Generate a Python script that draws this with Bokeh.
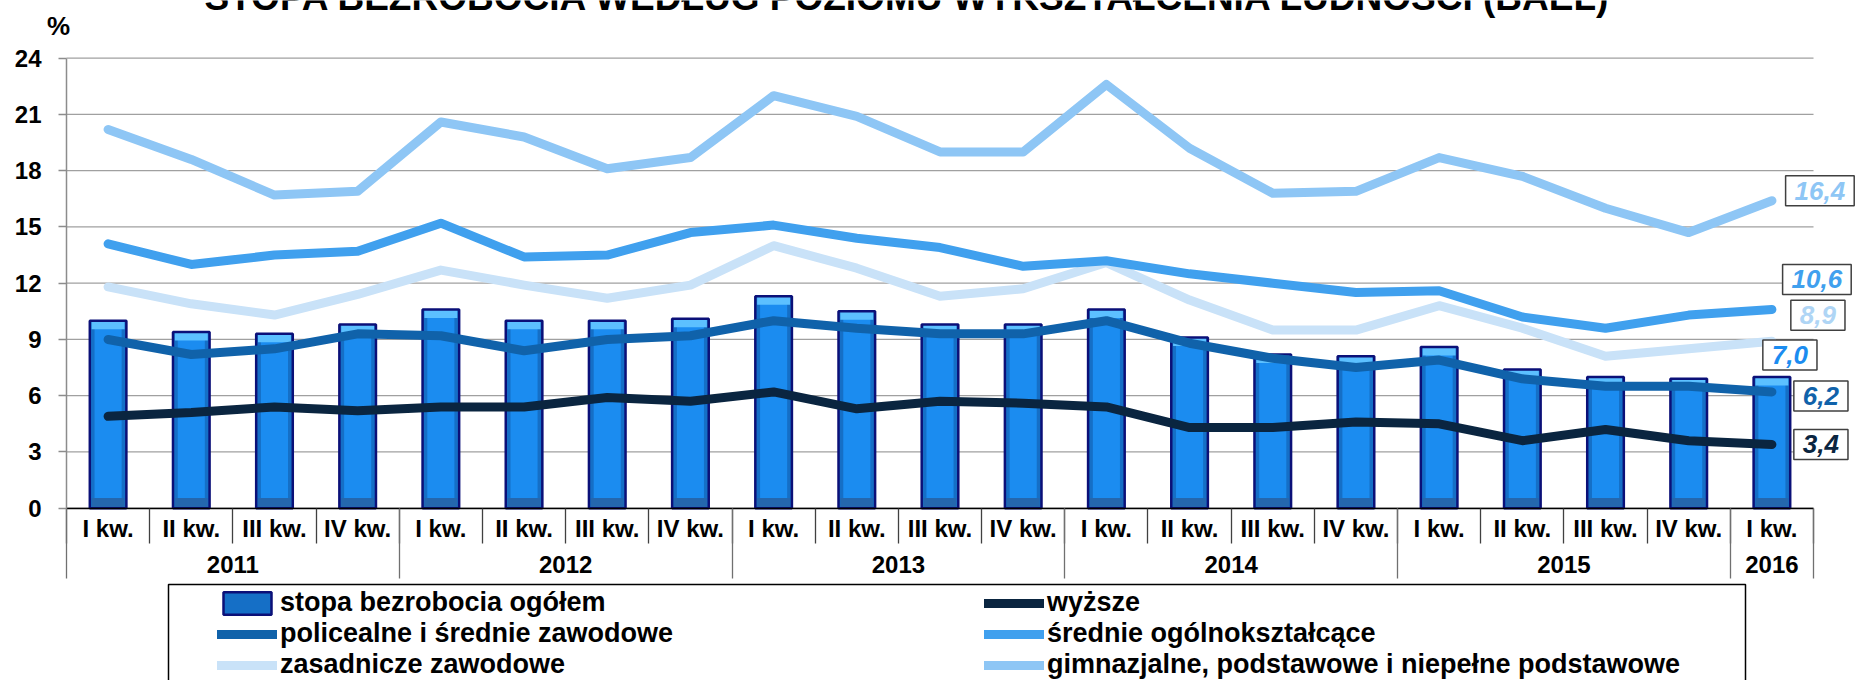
import numpy as np
from bokeh.plotting import figure
from bokeh.models import (Range1d, FixedTicker, LinearAxis, Label, Legend, LegendItem,
                          BoxAnnotation, ColumnDataSource)
from bokeh.embed import file_html
from bokeh.resources import INLINE

# ---------------- data ----------------
title_text = "STOPA BEZROBOCIA WEDŁUG POZIOMU WYKSZTAŁCENIA LUDNOŚCI (BAEL)"
years = ["2011", "2012", "2013", "2014", "2015", "2016"]
year_counts = [4, 4, 4, 4, 4, 1]
quarters = ["I kw.", "II kw.", "III kw.", "IV kw."] * 5 + ["I kw."]
y_ticks = [0, 3, 6, 9, 12, 15, 18, 21, 24]

ogolem = [10.0, 9.4, 9.3, 9.8, 10.6, 10.0, 10.0, 10.1, 11.3, 10.5, 9.8, 9.8,
          10.6, 9.1, 8.2, 8.1, 8.6, 7.4, 7.0, 6.9, 7.0]
wyzsze = [4.9, 5.1, 5.4, 5.2, 5.4, 5.4, 5.9, 5.7, 6.2, 5.3, 5.7, 5.6,
          5.4, 4.3, 4.3, 4.6, 4.5, 3.6, 4.2, 3.6, 3.4]
policealne = [9.0, 8.2, 8.5, 9.3, 9.2, 8.4, 9.0, 9.2, 10.0, 9.6, 9.3, 9.3,
              10.0, 8.8, 8.0, 7.5, 7.9, 6.9, 6.5, 6.5, 6.2]
srednie = [14.1, 13.0, 13.5, 13.7, 15.2, 13.4, 13.5, 14.7, 15.1, 14.4, 13.9, 12.9,
           13.2, 12.5, 12.0, 11.5, 11.6, 10.2, 9.6, 10.3, 10.6]
zasadnicze = [11.8, 10.9, 10.3, 11.4, 12.7, 11.9, 11.2, 11.9, 14.0, 12.8, 11.3, 11.7,
              13.1, 11.1, 9.5, 9.5, 10.8, 9.6, 8.1, 8.5, 8.9]
gimnazjalne = [20.2, 18.6, 16.7, 16.9, 20.6, 19.8, 18.1, 18.7, 22.0, 20.9, 19.0, 19.0,
               22.6, 19.2, 16.8, 16.9, 18.7, 17.7, 16.0, 14.7, 16.4]

names = {
    "ogolem": "stopa bezrobocia ogółem",
    "wyzsze": "wyższe",
    "policealne": "policealne i średnie zawodowe",
    "srednie": "średnie ogólnokształcące",
    "zasadnicze": "zasadnicze zawodowe",
    "gimnazjalne": "gimnazjalne, podstawowe i niepełne podstawowe",
}

# ---------------- styles / layout ----------------
FONT = "Liberation Sans"
C_BAR = "#1B8CF0"
C_BAR_EDGE = "#0B1078"
C_WYZ = "#0A2540"
C_POL = "#1062AA"
C_SRE = "#40A0EE"
C_ZAS = "#C9E2F8"
C_GIM = "#8EC6F5"

W, H = 1860, 680
PX_LEFT, PX_RIGHT = 66.0, 1813.0      # plot area horizontal extent (px)
PX_TOP, PX_ZERO = 57.7, 507.7         # y=24 and y=0 positions (px)

n = len(quarters)
centers = [i + 0.5 for i in range(n)]
bounds = [float(i) for i in range(n + 1)]
year_bounds = [0.0]
for c in year_counts:
    year_bounds.append(year_bounds[-1] + c)
year_centers = [(a + b) / 2 for a, b in zip(year_bounds[:-1], year_bounds[1:])]

ppx = (PX_RIGHT - PX_LEFT) / n
ppy = (PX_ZERO - PX_TOP) / y_ticks[-1]
x_range = Range1d(-PX_LEFT / ppx, n + (W - PX_RIGHT) / ppx)
y_range = Range1d(-(H - PX_ZERO) / ppy, y_ticks[-1] + PX_TOP / ppy)

p = figure(width=W, height=H, output_backend="svg", toolbar_location=None,
           x_range=x_range, y_range=y_range, min_border=0)
p.min_border_left = 0
p.min_border_right = 0
p.min_border_top = 0
p.min_border_bottom = 0
p.title.visible = False
p.outline_line_color = None
p.background_fill_color = "white"
p.border_fill_color = "white"
p.xgrid.visible = False
p.ygrid.visible = False

def style_labels(ax, size="24px"):
    ax.major_label_text_font = FONT
    ax.major_label_text_font_size = size
    ax.major_label_text_font_style = "bold"
    ax.major_label_text_color = "black"

# y axis
ya = p.yaxis[0]
ya.fixed_location = 0
ya.bounds = (0, y_ticks[-1])
ya.ticker = FixedTicker(ticks=y_ticks)
ya.axis_line_color = "#8C8C8C"
ya.axis_line_width = 1.5
ya.major_tick_out = 8
ya.major_tick_in = 0
ya.major_tick_line_color = "#8C8C8C"
ya.major_tick_line_width = 1.5
ya.minor_tick_line_color = None
ya.major_label_standoff = 17
style_labels(ya)

# x axis: line + quarter separators
xa = p.xaxis[0]
xa.fixed_location = 0
xa.bounds = (0, n)
xa.ticker = FixedTicker(ticks=[], minor_ticks=bounds)
xa.major_tick_line_color = None
xa.minor_tick_out = 35
xa.minor_tick_in = 0
xa.minor_tick_line_color = "#404040"
xa.minor_tick_line_width = 1.3
xa.axis_line_color = "black"
xa.axis_line_width = 1.5
xa.major_label_text_alpha = 0

# quarter labels
xq = LinearAxis(fixed_location=0, bounds=(0, n),
                ticker=FixedTicker(ticks=centers))
xq.major_label_overrides = {c: q for c, q in zip(centers, quarters)}
xq.axis_line_color = None
xq.major_tick_line_color = None
xq.minor_tick_line_color = None
xq.major_label_standoff = 1
style_labels(xq)
p.add_layout(xq, "below")

# year separators
xs = LinearAxis(fixed_location=0, bounds=(0, n),
                ticker=FixedTicker(ticks=[], minor_ticks=year_bounds))
xs.axis_line_color = None
xs.major_tick_line_color = None
xs.minor_tick_out = 70
xs.minor_tick_in = 0
xs.minor_tick_line_color = "#707070"
xs.minor_tick_line_width = 1.3
xs.major_label_text_alpha = 0
p.add_layout(xs, "below")

# year labels
xy = LinearAxis(fixed_location=0, bounds=(0, n),
                ticker=FixedTicker(ticks=year_centers))
xy.major_label_overrides = {c: y for c, y in zip(year_centers, years)}
xy.axis_line_color = None
xy.major_tick_line_color = None
xy.minor_tick_line_color = None
xy.major_label_standoff = 42
style_labels(xy)
p.add_layout(xy, "below")

# horizontal gridlines across the plot area
p.segment(x0=0, x1=n, y0=y_ticks, y1=y_ticks, line_color="#A0A0A0", line_width=1.3)

# ---------------- bars ----------------
src = ColumnDataSource(dict(x=centers, top=ogolem,
                            cap=[v - 0.45 for v in ogolem]))
bw = 0.44
r_bar = p.vbar(x="x", top="top", bottom=0, width=bw, source=src,
               fill_color="#156FC6", line_color=None)
p.vbar(x="x", top="top", bottom=0, width=bw * 0.74, source=src,
       fill_color=C_BAR, line_color=None)
p.vbar(x="x", top="top", bottom="cap", width=bw * 0.9, source=src,
       fill_color="#5CC0FF", line_color=None)
p.vbar(x="x", top=0.55, bottom=0, width=bw * 0.9, source=src,
       fill_color="#2467AE", line_color=None)
r_bar_edge = p.vbar(x="x", top="top", bottom=0, width=bw, source=src,
                    fill_color=None, line_color=C_BAR_EDGE, line_width=2.5)

# ---------------- lines ----------------
def line(vals, color):
    return p.line(centers, vals, line_color=color, line_width=9,
                  line_cap="round", line_join="round")

r_gim = line(gimnazjalne, C_GIM)
r_zas = line(zasadnicze, C_ZAS)
r_sre = line(srednie, C_SRE)
r_pol = line(policealne, C_POL)
r_wyz = line(wyzsze, C_WYZ)

# ---------------- end labels ----------------
def fmt(v):
    return f"{v:.1f}".replace(".", ",")

end_labels = [
    (gimnazjalne[-1], C_GIM, 48, 10),
    (srednie[-1], C_SRE, 45, 30),
    (zasadnicze[-1], "#AFD5F5", 46, 26),
    (ogolem[-1], C_BAR, 18, 22),
    (policealne[-1], C_POL, 49, -4),
    (wyzsze[-1], C_WYZ, 49, 0),
]
for v, col, dx, dy in end_labels:
    p.add_layout(Label(x=centers[-1], y=v, x_offset=dx, y_offset=dy, text=fmt(v),
                       text_align="center", text_baseline="middle",
                       text_font=FONT, text_font_size="26px",
                       text_font_style="bold italic", text_color=col,
                       background_fill_color="white",
                       border_line_color="#404040", border_line_width=1.5,
                       padding=dict(left=9, right=9, top=6, bottom=6)))

# ---------------- title and unit ----------------
p.add_layout(Label(x=908, y=H + 3.5, x_units="screen", y_units="screen", text=title_text,
                   text_align="center", text_baseline="alphabetic",
                   text_font=FONT, text_font_size="37px", text_font_style="bold",
                   text_color="black"))
p.add_layout(Label(x=58, y=H - 25, x_units="screen", y_units="screen", text="%",
                   text_align="center", text_baseline="middle",
                   text_font=FONT, text_font_size="26px", text_font_style="bold",
                   text_color="black"))

# ---------------- legend ----------------
items = [
    LegendItem(label=names["ogolem"], renderers=[r_bar, r_bar_edge]),
    LegendItem(label=names["policealne"], renderers=[r_pol]),
    LegendItem(label=names["zasadnicze"], renderers=[r_zas]),
    LegendItem(label=names["wyzsze"], renderers=[r_wyz]),
    LegendItem(label=names["srednie"], renderers=[r_sre]),
    LegendItem(label=names["gimnazjalne"], renderers=[r_gim]),
]
legend = Legend(items=items, location=(217, 0), ncols=2, orientation="vertical",
                padding=0, margin=0, spacing=0, glyph_width=60, glyph_height=28,
                label_standoff=3, label_width=704,
                border_line_alpha=0, background_fill_alpha=0,
                label_text_font=FONT, label_text_font_size="27px",
                label_text_font_style="bold", label_text_color="black")
p.add_layout(legend, "center")

p.add_layout(BoxAnnotation(left=168, right=1745, top=H - 584, bottom=-20,
                           left_units="screen", right_units="screen",
                           top_units="screen", bottom_units="screen",
                           fill_alpha=0, line_color="black", line_alpha=1.0,
                           line_width=1.5))

open("out.html", "w").write(file_html(p, INLINE))
